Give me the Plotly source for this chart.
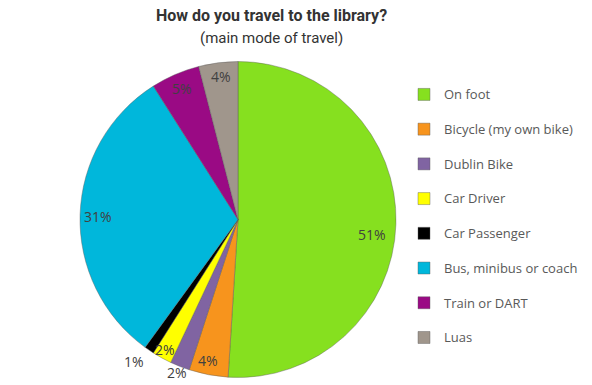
import math
import plotly.graph_objects as go

# Survey answers: main mode of travel to the library (percent of respondents)
CATEGORIES = [
    "On foot",
    "Bicycle (my own bike)",
    "Dublin Bike",
    "Car Driver",
    "Car Passenger",
    "Bus, minibus or coach",
    "Train or DART",
    "Luas",
]
SHARES = [51, 4, 2, 2, 1, 31, 5, 4]

COLORS = ["#86E01F", "#F7941D", "#8064A2", "#FFFF00", "#000000", "#00B7DB", "#9A0A84", "#A0968C"]

# label placement: (distance from centre as a fraction of the radius,
#                   position inside the slice's angular span)
LABEL_PLACEMENT = [
    (0.853, 0.524),
    (0.913, 0.58),
    (1.045, 0.51),
    (0.946, 0.56),
    (1.11, 1.05),
    (0.884, 0.496),
    (0.904, 0.51),
    (0.910, 0.52),
]

W, H = 592, 385
CX, CY, R = 238, 219.5, 158  # pie centre and radius in pixels
TEXT_FONT = "Open Sans"

# legend entries: the text itself is 13px, the blank second line spaces the rows out
legend_labels = [f'<span style="font-size:13px">{c}</span><br> ' for c in CATEGORIES]

fig = go.Figure()
fig.add_trace(go.Pie(
    labels=legend_labels,
    values=SHARES,
    customdata=CATEGORIES,
    sort=False,
    direction="clockwise",
    rotation=0,
    textinfo="none",
    hovertemplate="%{customdata}: %{percent}<extra></extra>",
    marker=dict(colors=COLORS, line=dict(color="rgba(90,90,90,0.55)", width=0.75)),
    domain=dict(x=[(CX - R) / W, (CX + R) / W], y=[1 - (CY + R) / H, 1 - (CY - R) / H]),
))

# percentage labels, placed from the cumulative shares
total = sum(SHARES)
cum = 0
annotations = []
for share, (rf, pos) in zip(SHARES, LABEL_PLACEMENT):
    a0 = cum / total * 360
    a1 = (cum + share) / total * 360
    cum += share
    ang = math.radians(a0 + (a1 - a0) * pos)
    px = CX + rf * R * math.sin(ang)
    py = CY - rf * R * math.cos(ang)
    annotations.append(dict(
        x=px / W, y=1 - py / H, xref="paper", yref="paper",
        text=f"{round(share / total * 100)}%", showarrow=False,
        font=dict(family=TEXT_FONT, size=14, color="#404040"),
        xanchor="center", yanchor="middle", borderpad=0,
    ))

annotations.append(dict(
    x=271.5 / W, y=1 - 15 / H, xref="paper", yref="paper",
    text="<b>How do you travel to the library?</b>", showarrow=False,
    font=dict(family="Roboto", size=16, color="#333333"),
    xanchor="center", yanchor="middle",
))
annotations.append(dict(
    x=271 / W, y=1 - 38 / H, xref="paper", yref="paper",
    text="(main mode of travel)", showarrow=False,
    font=dict(family="Roboto", size=15, color="#333333"),
    xanchor="center", yanchor="middle",
))

fig.update_layout(
    width=W, height=H,
    margin=dict(l=0, r=0, t=0, b=0),
    paper_bgcolor="white",
    plot_bgcolor="white",
    showlegend=True,
    legend=dict(
        x=404 / W, y=1 - 80 / H, xanchor="left", yanchor="top",
        font=dict(family=TEXT_FONT, size=12.2, color="#595959"),
        valign="top",
        bgcolor="rgba(0,0,0,0)",
    ),
    annotations=annotations,
)

fig.write_html("out.html")
